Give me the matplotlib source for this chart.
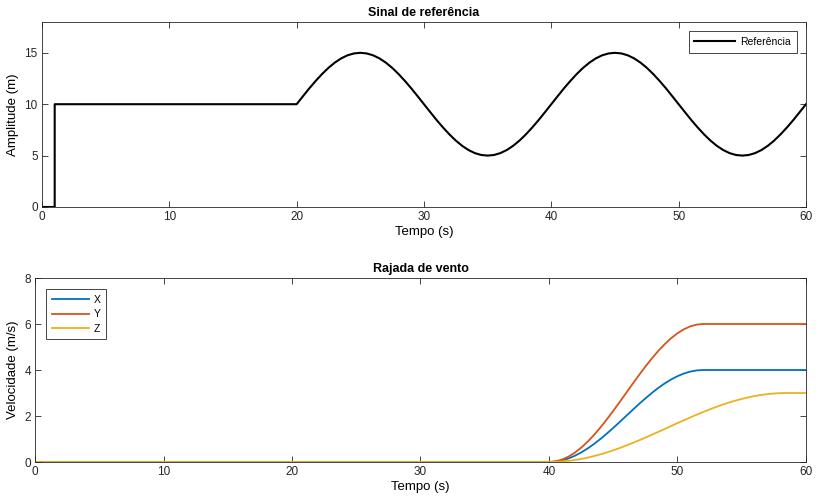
import matplotlib
matplotlib.use("Agg")
from matplotlib import pyplot as plt

plt.rcParams['font.family'] = ['Liberation Sans', 'DejaVu Sans']

# reference signal, every 0.5 s from t = 20 s
t_ref = [0, 1, 1] + [20 + 0.5 * i for i in range(81)]
wave = [10, 10.78, 11.55, 12.27, 12.94, 13.54, 14.05, 14.46, 14.76, 14.94,
        15, 14.94, 14.76, 14.46, 14.05, 13.54, 12.94, 12.27, 11.55, 10.78,
        10, 9.22, 8.45, 7.73, 7.06, 6.46, 5.95, 5.54, 5.24, 5.06,
        5, 5.06, 5.24, 5.54, 5.95, 6.46, 7.06, 7.73, 8.45, 9.22]
ref = [0, 0, 10] + wave + wave + [10]

# wind gust, zero before 40 s, then every 0.5 s
t_wind = [0] + [40 + 0.5 * i for i in range(41)]
gust_x = [0, 0, 0.017, 0.068, 0.152, 0.268, 0.413, 0.586, 0.782, 1.0, 1.235,
          1.482, 1.739, 2.0, 2.261, 2.518, 2.765, 3.0, 3.218, 3.414, 3.587,
          3.732, 3.848, 3.932, 3.983, 4.0] + [4.0] * 16
gust_y = [0, 0, 0.026, 0.102, 0.228, 0.402, 0.620, 0.879, 1.174, 1.5, 1.852,
          2.224, 2.608, 3.0, 3.392, 3.776, 4.148, 4.5, 4.826, 5.121, 5.380,
          5.598, 5.772, 5.898, 5.974, 6.0] + [6.0] * 16
gust_z = [0, 0, 0.005, 0.022, 0.048, 0.086, 0.133, 0.191, 0.257, 0.333, 0.417,
          0.509, 0.608, 0.714, 0.825, 0.941, 1.061, 1.184, 1.309, 1.436, 1.564,
          1.691, 1.816, 1.939, 2.059, 2.175, 2.287, 2.392, 2.491, 2.583, 2.667,
          2.743, 2.810, 2.867, 2.914, 2.952, 2.978, 2.995, 3.0, 3.0, 3.0, 3.0]

axcol = '0.15'
fs = 8.5


def style(ax):
    ax.tick_params(direction='in', length=4, width=0.6, colors=axcol,
                   labelsize=fs, top=True, right=True, pad=3)
    for s in ax.spines.values():
        s.set_color(axcol)
        s.set_linewidth(0.6)


fig = plt.figure(figsize=(8.18, 5.03), dpi=100)

ax1 = fig.add_axes([0.0513, 0.5885, 0.934, 0.3678])
ax1.plot(t_ref, ref, color='k', lw=1.5, label='Referência')
ax1.set_xlim(0, 60)
ax1.set_ylim(0, 18)
ax1.set_xticks([0, 10, 20, 30, 40, 50, 60])
ax1.set_yticks([0, 5, 10, 15])
ax1.set_title('Sinal de referência', fontsize=9, fontweight='bold', pad=4)
ax1.set_xlabel('Tempo (s)', fontsize=9.5, labelpad=2)
ax1.set_ylabel('Amplitude (m)', fontsize=9.5, labelpad=4)
leg1 = ax1.legend(loc='upper right', fontsize=7.5, fancybox=False, handlelength=3.9,
                  handletextpad=0.5, borderaxespad=0.9, framealpha=1,
                  borderpad=0.55)
leg1.get_frame().set_edgecolor('0.15')
leg1.get_frame().set_linewidth(0.6)
style(ax1)

ax2 = fig.add_axes([0.0428, 0.0815, 0.9425, 0.3658])
ax2.plot(t_wind, gust_x, color='#0072BD', lw=1.3, label='X')
ax2.plot(t_wind, gust_y, color='#D95319', lw=1.3, label='Y')
ax2.plot(t_wind, gust_z, color='#EDB120', lw=1.3, label='Z')
ax2.set_xlim(0, 60)
ax2.set_ylim(0, 8)
ax2.set_xticks([0, 10, 20, 30, 40, 50, 60])
ax2.set_yticks([0, 2, 4, 6, 8])
ax2.set_title('Rajada de vento', fontsize=9, fontweight='bold', pad=4)
ax2.set_xlabel('Tempo (s)', fontsize=9.5, labelpad=2)
ax2.set_ylabel('Velocidade (m/s)', fontsize=9.5, labelpad=4)
leg2 = ax2.legend(loc='upper left', fontsize=7.5, fancybox=False, handlelength=3.6,
                  handletextpad=0.4, borderaxespad=1.1, framealpha=1,
                  labelspacing=0.45, borderpad=0.5)
leg2.get_frame().set_edgecolor('0.15')
leg2.get_frame().set_linewidth(0.6)
style(ax2)

fig.savefig('out.png', dpi=100)
